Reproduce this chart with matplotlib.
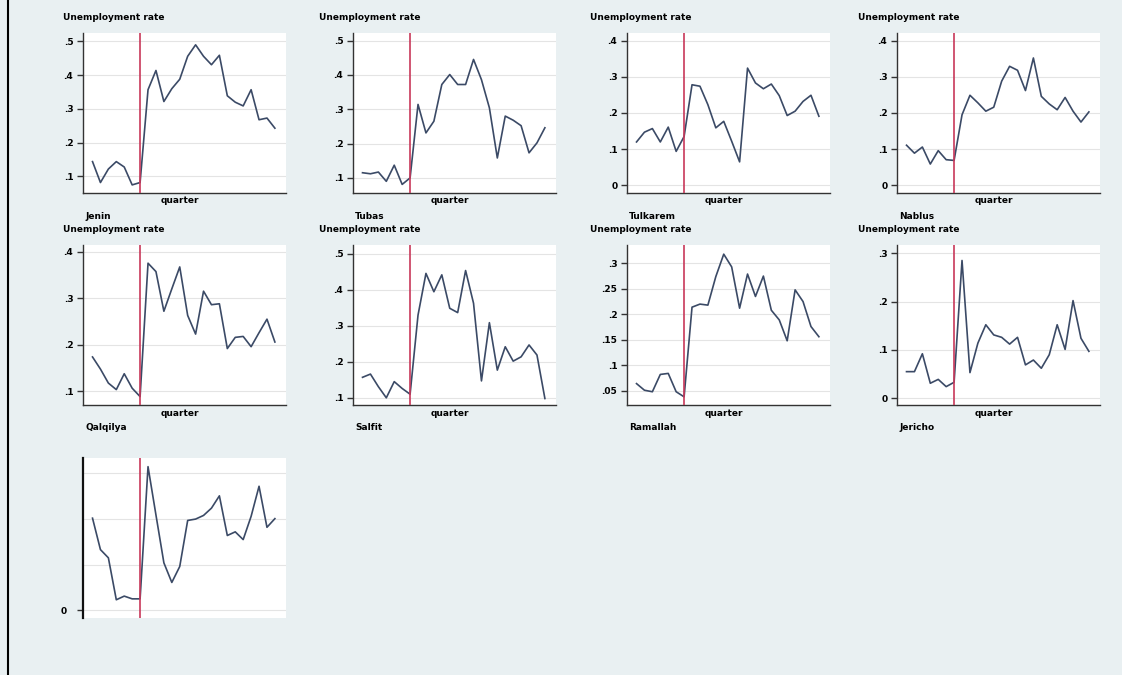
import matplotlib.pyplot as plt
from matplotlib.lines import Line2D
import numpy as np

# quarters 1..24, intervention after quarter 7
quarter = np.arange(1, 25)
break_q = 7

districts = ['Jenin', 'Tubas', 'Tulkarem', 'Nablus', 'Qalqilya', 'Salfit', 'Ramallah', 'Jericho', '']

jenin = [0.144, 0.082, 0.122, 0.144, 0.128, 0.075, 0.082, 0.357, 0.414, 0.322, 0.360, 0.388,
         0.456, 0.490, 0.456, 0.431, 0.459, 0.339, 0.320, 0.309, 0.357, 0.268, 0.273, 0.243]
tubas = [0.115, 0.112, 0.117, 0.090, 0.137, 0.081, 0.100, 0.314, 0.231, 0.265, 0.372, 0.401,
         0.372, 0.372, 0.445, 0.386, 0.304, 0.158, 0.280, 0.268, 0.252, 0.173, 0.202, 0.246]
tulkarem = [0.120, 0.147, 0.157, 0.120, 0.161, 0.094, 0.135, 0.278, 0.274, 0.223, 0.159, 0.177,
            0.122, 0.065, 0.324, 0.283, 0.267, 0.280, 0.248, 0.193, 0.205, 0.232, 0.249, 0.191]
nablus = [0.111, 0.089, 0.106, 0.059, 0.096, 0.071, 0.069, 0.195, 0.249, 0.228, 0.205, 0.216,
          0.288, 0.329, 0.318, 0.262, 0.352, 0.246, 0.225, 0.209, 0.243, 0.205, 0.175, 0.203]
qalqilya = [0.174, 0.148, 0.118, 0.104, 0.138, 0.107, 0.089, 0.375, 0.357, 0.272, 0.320, 0.367,
            0.263, 0.223, 0.315, 0.286, 0.288, 0.192, 0.216, 0.218, 0.196, 0.226, 0.255, 0.206]
salfit = [0.157, 0.166, 0.131, 0.100, 0.145, 0.126, 0.110, 0.330, 0.446, 0.395, 0.442, 0.349,
          0.337, 0.454, 0.363, 0.147, 0.309, 0.177, 0.242, 0.202, 0.214, 0.247, 0.219, 0.098]
ramallah = [0.064, 0.051, 0.048, 0.082, 0.084, 0.048, 0.038, 0.214, 0.220, 0.218, 0.274, 0.318,
            0.293, 0.212, 0.279, 0.235, 0.275, 0.208, 0.189, 0.148, 0.248, 0.225, 0.176, 0.156]
jericho = [0.055, 0.055, 0.092, 0.031, 0.039, 0.024, 0.033, 0.285, 0.053, 0.114, 0.152, 0.131,
           0.126, 0.112, 0.126, 0.069, 0.079, 0.062, 0.090, 0.152, 0.101, 0.202, 0.124, 0.097]
ninth = [0.202, 0.133, 0.115, 0.023, 0.031, 0.025, 0.025, 0.315, 0.209, 0.104, 0.061, 0.096,
         0.197, 0.200, 0.208, 0.224, 0.251, 0.164, 0.172, 0.155, 0.206, 0.272, 0.182, 0.201]
series = [jenin, tubas, tulkarem, nablus, qalqilya, salfit, ramallah, jericho, ninth]

yticks = [[.1, .2, .3, .4, .5], [.1, .2, .3, .4, .5], [0, .1, .2, .3, .4], [0, .1, .2, .3, .4],
          [.1, .2, .3, .4], [.1, .2, .3, .4, .5], [.05, .1, .15, .2, .25, .3], [0, .1, .2, .3],
          [0]]
ylabels = [['.1', '.2', '.3', '.4', '.5'], ['.1', '.2', '.3', '.4', '.5'], ['0', '.1', '.2', '.3', '.4'],
           ['0', '.1', '.2', '.3', '.4'], ['.1', '.2', '.3', '.4'], ['.1', '.2', '.3', '.4', '.5'],
           ['.05', '.1', '.15', '.2', '.25', '.3'], ['0', '.1', '.2', '.3'], ['0']]
# last panel: grid lines without tick labels
ninth_grid = [.1, .2, .3]
ylims = [(0.051, 0.525), (0.056, 0.522), (-0.021, 0.421), (-0.021, 0.421), (0.071, 0.414),
         (0.080, 0.525), (0.022, 0.336), (-0.014, 0.317), (-0.017, 0.334)]

W, H = 1122, 675
bg = '#e9f0f2'
navy = '#3b4a66'
red = '#c8385a'

fig = plt.figure(figsize=(W / 100, H / 100), dpi=100, facecolor=bg)

col_left = [83, 353, 627, 897]
title_off = [-20, -34, -37, -39]
row_top = [33, 245, 458]
ax_w, ax_h = 203, 160

for i, (name, y) in enumerate(zip(districts, series)):
    r, c = divmod(i, 4)
    left, top = col_left[c], row_top[r]
    ax = fig.add_axes([left / W, 1 - (top + ax_h) / H, ax_w / W, ax_h / H])
    ax.set_facecolor('white')
    ax.plot(quarter, y, color=navy, lw=1.2, zorder=3)
    ax.axvline(break_q, color=red, lw=1.2, zorder=4)
    ax.set_xlim(-0.2, 25.4)
    ax.set_ylim(*ylims[i])
    ax.set_yticks(yticks[i])
    ax.set_yticklabels(ylabels[i], fontsize=6.5, fontweight='bold')
    ax.set_xticks([])
    ax.yaxis.grid(True, color='#e4e4e4', lw=0.8)
    if i == 8:
        ax.set_yticks(ninth_grid, minor=True)
        ax.yaxis.grid(True, which='minor', color='#e4e4e4', lw=0.8)
        ax.tick_params(axis='y', which='minor', length=0)
    ax.set_axisbelow(True)
    for s in ['top', 'right']:
        ax.spines[s].set_visible(False)
    spine_c = '#111111' if i == 8 else '#333333'
    spine_w = 1.6 if i == 8 else 1.0
    ax.spines['left'].set_color(spine_c)
    ax.spines['left'].set_linewidth(spine_w)
    ax.spines['bottom'].set_color('#333333')
    ax.spines['bottom'].set_linewidth(1.0)
    ax.spines['bottom'].set_visible(i != 8)
    ax.tick_params(axis='y', length=4, width=1, color='#333333', pad=8 if i == 8 else 3)

    if i < 8:
        fig.text((left + title_off[c]) / W, 1 - (top - 16) / H, 'Unemployment rate',
                 fontsize=6.5, fontweight='bold', ha='left', va='center')
        fig.text((left + ax_w / 2 - 5) / W, 1 - (top + ax_h + 8) / H, 'quarter',
                 fontsize=6.5, fontweight='bold', ha='center', va='center')
        fig.text((left + 2) / W, 1 - (top + ax_h + 23) / H, name,
                 fontsize=6.5, fontweight='bold', ha='left', va='center')

# left border line
fig.add_artist(Line2D([8 / W, 8 / W], [0, 1], transform=fig.transFigure, color='black', lw=1.5))

plt.savefig('out.png', dpi=100, facecolor=bg)
